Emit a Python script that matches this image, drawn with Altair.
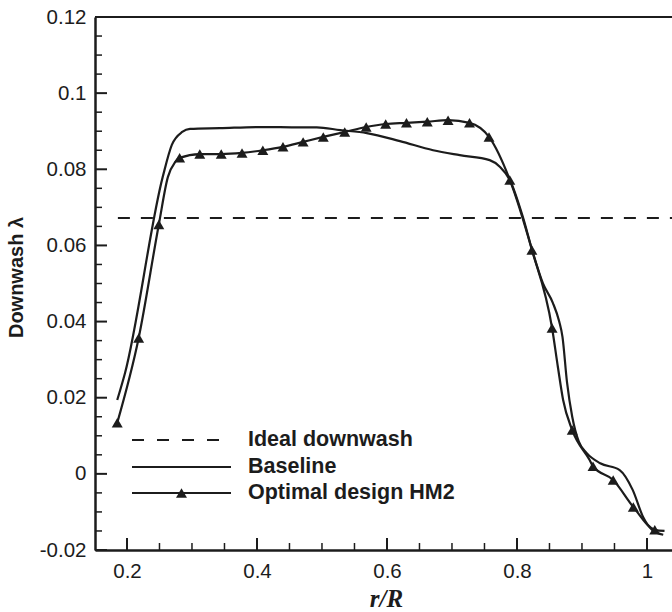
import altair as alt
import pandas as pd

# ---------------- data ----------------
base_x = [0.185, 0.197, 0.255, 0.269, 0.285, 0.297, 0.343, 0.405, 0.466, 0.492, 0.528,
          0.569, 0.620, 0.671, 0.712, 0.758, 0.774, 0.789, 0.809, 0.823, 0.840, 0.855,
          0.865, 0.870, 0.877, 0.885, 0.895, 0.907, 0.928, 0.958, 0.978, 0.994, 1.008, 1.025]
base_y = [0.0194, 0.0265, 0.0780, 0.0864, 0.0898, 0.0906, 0.0908, 0.0911, 0.0910, 0.0910, 0.0903,
          0.0895, 0.0874, 0.0850, 0.0837, 0.0824, 0.0806, 0.0772, 0.0675, 0.0590, 0.0500, 0.0450,
          0.0400, 0.0360, 0.0240, 0.0150, 0.0085, 0.0055, 0.0028, 0.0010, -0.0042, -0.0113, -0.0147, -0.0160]

opt_line_x = [0.185, 0.218, 0.249, 0.263, 0.274, 0.281, 0.312, 0.345, 0.377, 0.409, 0.440, 0.471,
              0.502, 0.535, 0.568, 0.598, 0.630, 0.662, 0.694, 0.727, 0.757, 0.789, 0.823, 0.854,
              0.863, 0.871, 0.885, 0.912, 0.917, 0.948, 0.979, 1.012, 1.027]
opt_line_y = [0.0134, 0.0357, 0.0655, 0.0780, 0.0819, 0.0830, 0.0840, 0.0840, 0.0843, 0.0850, 0.0859, 0.0872,
              0.0885, 0.0898, 0.0911, 0.0919, 0.0922, 0.0925, 0.0929, 0.0922, 0.0885, 0.0772, 0.0588, 0.0383,
              0.0280, 0.0194, 0.0115, 0.0036, 0.0020, -0.0016, -0.0087, -0.0147, -0.0150]

opt_mark_x = [0.185, 0.218, 0.249, 0.281, 0.312, 0.345, 0.377, 0.409, 0.440, 0.471, 0.502, 0.535,
              0.568, 0.598, 0.630, 0.662, 0.694, 0.727, 0.757, 0.789, 0.823, 0.854, 0.885, 0.917,
              0.948, 0.979, 1.012]
opt_mark_y = [0.0134, 0.0357, 0.0655, 0.0830, 0.0840, 0.0840, 0.0843, 0.0850, 0.0859, 0.0872, 0.0885, 0.0898,
              0.0911, 0.0919, 0.0922, 0.0925, 0.0929, 0.0922, 0.0885, 0.0772, 0.0588, 0.0383, 0.0115, 0.0020,
              -0.0016, -0.0087, -0.0147]

ideal_x = [0.186, 1.0385]
ideal_y = [0.0672, 0.0672]

x_major = [0.2, 0.4, 0.6, 0.8, 1.0]
x_minor = [0.25, 0.3, 0.35, 0.45, 0.5, 0.55, 0.65, 0.7, 0.75, 0.85, 0.9, 0.95]
y_major = [-0.02, 0, 0.02, 0.04, 0.06, 0.08, 0.1, 0.12]
y_minor = [-0.015, -0.01, -0.005, 0.005, 0.01, 0.015, 0.025, 0.03, 0.035, 0.045, 0.05, 0.055,
           0.065, 0.07, 0.075, 0.085, 0.09, 0.095, 0.105, 0.11, 0.115]

legend_labels = ["Ideal downwash", "Baseline", "Optimal design HM2"]

# ---------------- layout ----------------
W, H = 577, 533
INK = "#1c1c1c"
SANS = "Liberation Sans"

xs = alt.Scale(domain=[0.1508, 1.0385], nice=False, zero=False)
ys = alt.Scale(domain=[-0.02, 0.12], nice=False, zero=False)

x_axis = alt.Axis(values=x_major, labelExpr="toString(datum.value)", ticks=False, grid=False,
                  domainColor=INK, domainWidth=2.5, labelFont=SANS, labelFontSize=20.5,
                  labelColor=INK, labelPadding=11, labelFlush=False,
                  title="r/R", titleFont="Liberation Serif", titleFontStyle="italic",
                  titleFontWeight="bold", titleFontSize=25, titleColor=INK,
                  titleX=291, titleY=48, titleBaseline="middle", titleAlign="center")
y_axis = alt.Axis(values=y_major, labelExpr="toString(datum.value)", ticks=False, grid=False,
                  domainColor=INK, domainWidth=2.5, labelFont=SANS, labelFontSize=20.5,
                  labelColor=INK, labelPadding=9, labelFlush=False,
                  title="Downwash λ", titleFont=SANS, titleFontWeight="bold", titleFontSize=20,
                  titleColor=INK, titleX=-79, titleY=260, titleBaseline="middle",
                  titleAlign="center", titleAngle=270)

df_base = pd.DataFrame({"x": base_x, "y": base_y})
df_opt = pd.DataFrame({"x": opt_line_x, "y": opt_line_y})
df_mark = pd.DataFrame({"x": opt_mark_x, "y": opt_mark_y})
df_ideal = pd.DataFrame({"x": ideal_x, "y": ideal_y})

baseline = alt.Chart(df_base).mark_line(color=INK, strokeWidth=2.2, interpolate="monotone").encode(
    x=alt.X("x:Q", scale=xs, axis=x_axis),
    y=alt.Y("y:Q", scale=ys, axis=y_axis),
)
opt_line = alt.Chart(df_opt).mark_line(color=INK, strokeWidth=2.2, interpolate="monotone").encode(
    x=alt.X("x:Q", scale=xs), y=alt.Y("y:Q", scale=ys))
opt_marks = alt.Chart(df_mark).mark_point(shape="triangle-up", filled=True, color=INK, size=120,
                                          opacity=1).encode(
    x=alt.X("x:Q", scale=xs), y=alt.Y("y:Q", scale=ys))
ideal = alt.Chart(df_ideal).mark_line(color=INK, strokeWidth=2.2, strokeDash=[12, 11]).encode(
    x=alt.X("x:Q", scale=xs), y=alt.Y("y:Q", scale=ys))

# inward ticks
xmaj = alt.Chart(pd.DataFrame({"x": x_major})).mark_rule(color=INK, strokeWidth=2).encode(
    x=alt.X("x:Q", scale=xs), y=alt.value(H), y2=alt.value(H - 12))
xmin = alt.Chart(pd.DataFrame({"x": x_minor})).mark_rule(color=INK, strokeWidth=1.5).encode(
    x=alt.X("x:Q", scale=xs), y=alt.value(H), y2=alt.value(H - 7))
ymaj = alt.Chart(pd.DataFrame({"y": y_major})).mark_rule(color=INK, strokeWidth=2).encode(
    y=alt.Y("y:Q", scale=ys), x=alt.value(0), x2=alt.value(12))
ymin = alt.Chart(pd.DataFrame({"y": y_minor})).mark_rule(color=INK, strokeWidth=1.5).encode(
    y=alt.Y("y:Q", scale=ys), x=alt.value(0), x2=alt.value(7))
top = alt.Chart(pd.DataFrame({"a": [0]})).mark_rule(color=INK, strokeWidth=2.2).encode(
    x=alt.value(0), x2=alt.value(W), y=alt.value(0))

# legend
LX0, LX1, LT = 37, 136, 153
LY = [423, 450, 476]
one = pd.DataFrame({"a": [0]})
leg_dash = alt.Chart(one).mark_rule(color=INK, strokeWidth=2.2, strokeDash=[12, 13]).encode(
    x=alt.value(LX0), x2=alt.value(LX1 - 10), y=alt.value(LY[0]))
leg_base = alt.Chart(one).mark_rule(color=INK, strokeWidth=2.2).encode(
    x=alt.value(LX0), x2=alt.value(LX1), y=alt.value(LY[1]))
leg_opt = alt.Chart(one).mark_rule(color=INK, strokeWidth=2.2).encode(
    x=alt.value(LX0), x2=alt.value(LX1), y=alt.value(LY[2]))
leg_tri = alt.Chart(one).mark_point(shape="triangle-up", filled=True, color=INK, size=120,
                                    opacity=1).encode(
    x=alt.value((LX0 + LX1) / 2), y=alt.value(LY[2]))
leg_text = [
    alt.Chart(pd.DataFrame({"t": [lab]})).mark_text(
        align="left", baseline="middle", font=SANS, fontWeight="bold", fontSize=21.5, color=INK
    ).encode(x=alt.value(LT), y=alt.value(ly), text="t:N")
    for lab, ly in zip(legend_labels, LY)
]

chart = alt.layer(
    ideal, baseline, opt_line, opt_marks, xmaj, xmin, ymaj, ymin, top,
    leg_dash, leg_base, leg_opt, leg_tri, *leg_text
).properties(
    width=W, height=H,
    padding={"left": 95, "top": 17, "right": 0, "bottom": 62},
    autosize=alt.AutoSizeParams(type="none"),
    background="white",
).configure_view(stroke=None)

chart.save("out.html", embed_options={"renderer": "svg", "actions": False})
